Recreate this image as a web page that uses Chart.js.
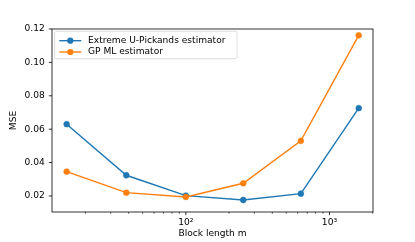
<!DOCTYPE html>
<html><head><meta charset="utf-8">
<script src="https://cdn.jsdelivr.net/npm/chart.js@4/dist/chart.umd.min.js"></script>
<style>html,body{margin:0;padding:0;background:#fff}#wrap{width:415px;height:242px;position:relative}</style>
</head><body><div id="wrap"><canvas id="c" width="415" height="242"></canvas></div>
<script>
const blockLengths = [14.8, 38.5, 100, 251, 632, 1598];
const uPickandsMSE = [0.0630, 0.0324, 0.0202, 0.0176, 0.0214, 0.0726];
const gpMlMSE = [0.0346, 0.0220, 0.0194, 0.0276, 0.0530, 0.1162];
const seriesLabels = ['Extreme U-Pickands estimator', 'GP ML estimator'];
const seriesColors = ['#1f77b4', '#ff7f0e'];
const yTickValues = [0.02, 0.04, 0.06, 0.08, 0.10, 0.12];
const xMajorTicks = [100, 1000];
const xMinorTicks = [20, 30, 40, 50, 60, 70, 80, 90, 200, 300, 400, 500, 600, 700, 800, 900, 2000];
const xLabel = 'Block length m';
const yLabel = 'MSE';

const FONT = 'DejaVu Sans';
Chart.defaults.font.family = FONT;
Chart.defaults.font.size = 9.1;
Chart.defaults.color = '#000';

const SUP = {'0':'⁰','1':'¹','2':'²','3':'³','4':'⁴','5':'⁵','6':'⁶','7':'⁷','8':'⁸','9':'⁹'};
function supLabel(v) {
  if (!xMajorTicks.includes(v)) return '';
  const e = String(Math.round(Math.log10(v)));
  return '10' + e.split('').map(c => SUP[c]).join('');
}

function mkDataset(i, ys) {
  return {
    label: seriesLabels[i],
    data: blockLengths.map((x, k) => ({x: x, y: ys[k]})),
    borderColor: seriesColors[i],
    backgroundColor: seriesColors[i],
    pointBackgroundColor: seriesColors[i],
    pointBorderColor: seriesColors[i],
    borderWidth: 1.4,
    pointRadius: 2.9,
    pointBorderWidth: 0.6,
    tension: 0,
    order: 1 - i
  };
}

const decor = {
  id: 'decor',
  afterDatasetsDraw(chart) {
    const ctx = chart.ctx;
    const ca = chart.chartArea;
    const xs = chart.scales.x, ys = chart.scales.y;
    ctx.save();
    ctx.strokeStyle = '#000';
    ctx.lineWidth = 0.8;
    ctx.strokeRect(ca.left, ca.top, ca.right - ca.left, ca.bottom - ca.top);
    xs.ticks.forEach(t => {
      const px = xs.getPixelForValue(t.value);
      const major = xMajorTicks.includes(t.value);
      ctx.lineWidth = major ? 0.8 : 0.6;
      ctx.beginPath();
      ctx.moveTo(px, ca.bottom);
      ctx.lineTo(px, ca.bottom + (major ? 3.2 : 1.8));
      ctx.stroke();
    });
    ctx.lineWidth = 0.8;
    ys.ticks.forEach(t => {
      const py = ys.getPixelForValue(t.value);
      ctx.beginPath();
      ctx.moveTo(ca.left - 3.2, py);
      ctx.lineTo(ca.left, py);
      ctx.stroke();
    });
    const bx = ca.left + 2.7, by = ca.top + 2.3, bw = 182.3, bh = 27.4;
    ctx.beginPath();
    ctx.roundRect(bx, by, bw, bh, 2);
    ctx.fillStyle = 'rgba(255,255,255,0.8)';
    ctx.fill();
    ctx.strokeStyle = 'rgba(204,204,204,0.8)';
    ctx.lineWidth = 0.8;
    ctx.stroke();
    chart.data.datasets.forEach((ds, i) => {
      const ry = by + 9.4 + i * 11.3;
      ctx.strokeStyle = ds.borderColor;
      ctx.lineWidth = 1.4;
      ctx.beginPath();
      ctx.moveTo(bx + 4.6, ry);
      ctx.lineTo(bx + 26.6, ry);
      ctx.stroke();
      ctx.fillStyle = ds.borderColor;
      ctx.beginPath();
      ctx.arc(bx + 15.6, ry, 3.1, 0, Math.PI * 2);
      ctx.fill();
      ctx.fillStyle = '#000';
      ctx.font = '9.1px "' + FONT + '"';
      ctx.textAlign = 'left';
      ctx.textBaseline = 'middle';
      ctx.fillText(ds.label, bx + 33.3, ry);
    });
    ctx.restore();
  }
};

new Chart(document.getElementById('c'), {
  type: 'line',
  data: { datasets: [mkDataset(0, uPickandsMSE), mkDataset(1, gpMlMSE)] },
  options: {
    responsive: false,
    animation: false,
    devicePixelRatio: 1,
    layout: { padding: { top: 29, right: 42, left: 0, bottom: 0 } },
    plugins: { legend: { display: false }, tooltip: { enabled: false } },
    scales: {
      x: {
        type: 'logarithmic',
        min: 11.7,
        max: 2009,
        afterBuildTicks: s => {
          s.ticks = xMajorTicks.concat(xMinorTicks).sort((a, b) => a - b).map(v => ({value: v}));
        },
        ticks: { autoSkip: false, maxRotation: 0, minRotation: 0, padding: 2, callback: v => supLabel(v) },
        grid: { display: true, drawOnChartArea: false, drawTicks: true, tickLength: 3.2, tickColor: 'rgba(0,0,0,0)' },
        border: { display: false },
        title: { display: true, text: xLabel, padding: { top: 0, bottom: 2.6 } },
        afterFit: s => { s.height = 30; }
      },
      y: {
        type: 'linear',
        min: 0.0104,
        max: 0.1200,
        afterBuildTicks: s => { s.ticks = yTickValues.map(v => ({value: v})); },
        ticks: { padding: 4, callback: v => Number(v).toFixed(2) },
        grid: { display: true, drawOnChartArea: false, drawTicks: true, tickLength: 3.2, tickColor: 'rgba(0,0,0,0)' },
        border: { display: false },
        title: { display: true, text: yLabel, padding: { top: 8.5, bottom: 0 } },
        afterFit: s => { s.width = 52; }
      }
    }
  },
  plugins: [decor]
});
</script>
</body></html>
